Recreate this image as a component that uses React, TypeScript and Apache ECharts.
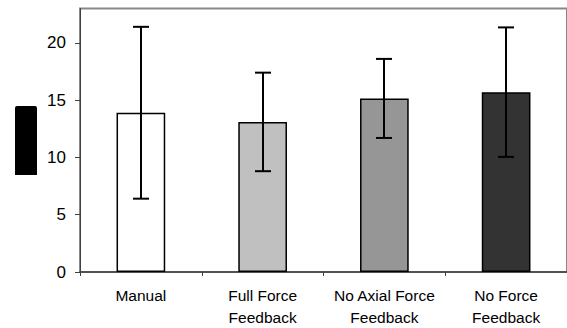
import React, { useEffect, useRef } from "react";
import * as echarts from "echarts";

const categories = ["Manual", "Full Force\nFeedback", "No Axial Force\nFeedback", "No Force\nFeedback"];
const means = [13.9, 13.1, 15.15, 15.7];
const errors = [7.5, 4.3, 3.45, 5.65];
const barColors = ["#ffffff", "#c0c0c0", "#969696", "#333333"];
const yTicks = [0, 5, 10, 15, 20];

const FONT = "'Liberation Sans', Arial, sans-serif";

export default function App() {
  const ref = useRef<HTMLDivElement>(null);
  useEffect(() => {
    if (!ref.current) return;
    const chart = echarts.init(ref.current, null, { renderer: "svg" });
    const errData = means.map((m, i) => [i, m - errors[i], m + errors[i]]);
    chart.setOption({
      animation: false,
      backgroundColor: "#ffffff",
      grid: {
        left: 80,
        width: 490,
        top: 8.5,
        bottom: 53.5,
        show: true,
        borderColor: "#888888",
        borderWidth: 2,
        backgroundColor: "transparent",
      },
      xAxis: {
        type: "category",
        data: categories,
        axisLine: { lineStyle: { color: "#404040", width: 1.5 } },
        axisTick: { show: true, alignWithLabel: false, length: 4, lineStyle: { color: "#404040" } },
        axisLabel: {
          color: "#000",
          fontFamily: FONT,
          fontSize: 15.5,
          lineHeight: 22,
          margin: 12,
          interval: 0,
        },
        splitLine: { show: false },
      },
      yAxis: {
        type: "value",
        min: 0,
        max: 23,
        interval: 5,
        axisLine: { show: true, lineStyle: { color: "#404040", width: 1 } },
        axisTick: { show: true, length: 5, customValues: yTicks, lineStyle: { color: "#404040" } },
        axisLabel: {
          color: "#000",
          fontFamily: FONT,
          fontSize: 17,
          margin: 14,
          customValues: yTicks,
          formatter: (v: number) => (v % 5 === 0 ? String(v) : ""),
        },
        splitLine: { show: false },
      },
      graphic: [
        {
          type: "rect",
          shape: { x: 15, y: 106, width: 22, height: 69, r: [2, 2, 0, 0] },
          style: { fill: "#000" },
          z: 10,
        },
      ],
      series: [
        {
          type: "bar",
          barWidth: "40%",
          data: means.map((m, i) => ({
            value: m,
            itemStyle: { color: barColors[i], borderColor: "#000", borderWidth: 1.5 },
          })),
          z: 2,
        },
        {
          type: "custom",
          data: errData,
          z: 5,
          renderItem: (params: any, api: any) => {
            const x = api.value(0);
            const lo = api.coord([x, api.value(1)]);
            const hi = api.coord([x, api.value(2)]);
            const cx = Math.round(lo[0]);
            const half = 8;
            const style = { stroke: "#000", lineWidth: 2 };
            return {
              type: "group",
              children: [
                { type: "line", shape: { x1: cx, y1: lo[1], x2: cx, y2: hi[1] }, style },
                { type: "line", shape: { x1: cx - half, y1: hi[1], x2: cx + half, y2: hi[1] }, style },
                { type: "line", shape: { x1: cx - half, y1: lo[1], x2: cx + half, y2: lo[1] }, style },
              ],
            };
          },
        },
      ],
    });
    return () => chart.dispose();
  }, []);
  return (
    <div
      ref={ref}
      style={{ position: "absolute", left: 0, top: 0, width: 567, height: 328 }}
    />
  );
}
